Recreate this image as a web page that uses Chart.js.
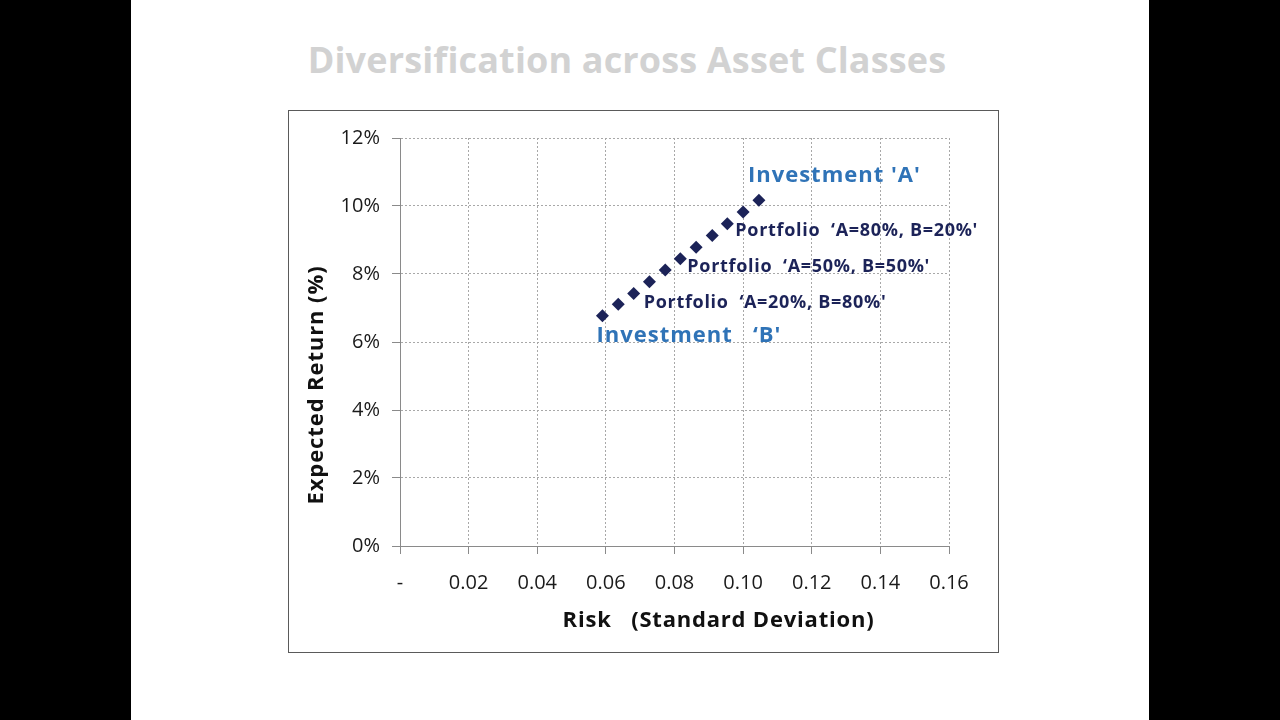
<!DOCTYPE html>
<html><head><meta charset="utf-8">
<script src="https://cdn.jsdelivr.net/npm/chart.js@4.4.0/dist/chart.umd.min.js"></script>
<style>
html,body{margin:0;padding:0;background:#000;width:1280px;height:720px;overflow:hidden;}
#slide{position:absolute;left:131px;top:0;width:1018px;height:720px;background:#fff;}
#title{position:absolute;left:627px;top:36px;transform:translateX(-50%);white-space:nowrap;font:bold 36px 'Open Sans';line-height:48px;color:#d2d2d2;letter-spacing:0.15px;}
#box{position:absolute;left:288px;top:110px;width:709px;height:541px;border:1px solid #5a5a5a;background:#fff;}
#box canvas{position:absolute;left:0;top:0;}
</style></head>
<body>
<div id="slide"></div>
<div id="title">Diversification across Asset Classes</div>
<div id="box"><canvas id="c" width="709" height="541"></canvas></div>
<script>
// ---- data ----
const riskValues   = [0.0590,0.0636,0.0681,0.0727,0.0773,0.0817,0.0863,0.0910,0.0954,0.1000,0.1046];
const returnValues = [0.0677,0.0711,0.0743,0.0777,0.0812,0.0845,0.0879,0.0913,0.0948,0.0982,0.1017];
const xTickValues = [0,0.02,0.04,0.06,0.08,0.10,0.12,0.14,0.16];
const xTickLabels = ['-','0.02','0.04','0.06','0.08','0.10','0.12','0.14','0.16'];
const yTickValues = [0,0.02,0.04,0.06,0.08,0.10,0.12];
const yTickLabels = ['0%','2%','4%','6%','8%','10%','12%'];
const xAxisTitle = 'Risk   (Standard Deviation)';
const yAxisTitle = 'Expected Return (%)';
const pointLabels = [
  {text:"Investment 'A'", index:10},
  {text:"Portfolio  \u2018A=80%, B=20%'", index:8},
  {text:"Portfolio  \u2018A=50%, B=50%'", index:5},
  {text:"Portfolio  \u2018A=20%, B=80%'", index:2},
  {text:"Investment   \u2018B'", index:0}
];
// ---- styles for point labels ----
const labelStyles = [
  {dx:-11, dy:-18, font:"bold 22px 'Open Sans'", color:'#2f73b7', ls:'1px'},
  {dx:8,  dy:12, font:"bold 18px 'Open Sans'", color:'#1c2358', ls:'0.7px'},
  {dx:7,  dy:13, font:"bold 18px 'Open Sans'", color:'#1c2358', ls:'0.7px'},
  {dx:10, dy:15, font:"bold 18px 'Open Sans'", color:'#1c2358', ls:'0.7px'},
  {dx:-6, dy:26, font:"bold 22px 'Open Sans'", color:'#2f73b7', ls:'1px'}
];

const points = riskValues.map((x,i)=>({x:x,y:returnValues[i]}));

const overlay = {
  id:'overlay',
  afterDatasetsDraw(chart){
    const {ctx, scales:{x,y}} = chart;
    ctx.save();
    pointLabels.forEach((l,k)=>{
      const s = labelStyles[k];
      const px = x.getPixelForValue(riskValues[l.index]);
      const py = y.getPixelForValue(returnValues[l.index]);
      ctx.font = s.font; ctx.fillStyle = s.color;
      ctx.letterSpacing = s.ls;
      ctx.textAlign='left'; ctx.textBaseline='alphabetic';
      ctx.fillText(l.text, px+s.dx, py+s.dy);
    });
    // axis titles
    const ca = chart.chartArea;
    ctx.font = "bold 22px 'Open Sans'"; ctx.fillStyle='#111';
    ctx.letterSpacing = '0.8px';
    ctx.textAlign='center'; ctx.textBaseline='alphabetic';
    ctx.fillText(xAxisTitle, (ca.left+ca.right)/2 + 44, ca.bottom + 81);
    ctx.letterSpacing = '0.9px';
    ctx.translate(34, (ca.top+ca.bottom)/2 + 43);
    ctx.rotate(-Math.PI/2);
    ctx.fillText(yAxisTitle, 0, 0);
    ctx.restore();
  }
};

new Chart(document.getElementById('c'), {
  type:'scatter',
  data:{datasets:[{
    data:points,
    pointStyle:'rectRot',
    pointRadius:6.5,
    pointHoverRadius:6.5,
    backgroundColor:'#1c2358',
    borderColor:'#1c2358',
    borderWidth:0
  }]},
  options:{
    responsive:false,
    animation:false,
    events:[],
    layout:{padding:{left:0,right:49,top:27,bottom:0}},
    plugins:{legend:{display:false},tooltip:{enabled:false},title:{display:false}},
    scales:{
      x:{
        type:'linear', min:0, max:0.16,
        afterBuildTicks(s){ s.ticks = xTickValues.map(v=>({value:v})); },
        afterFit(s){ s.height = 106; },
        ticks:{ callback:(v,i)=>xTickLabels[i], font:{family:'Open Sans',size:20}, color:'#1a1a1a', padding:17, maxRotation:0, autoSkip:false },
        grid:{ color:'#a8a8a8', lineWidth:1, tickLength:8, tickColor:'#8a8a8a', tickBorderDash:[] },
        border:{ color:'#8a8a8a', width:1, dash:[2,2] }
      },
      y:{
        type:'linear', min:0, max:0.12,
        afterBuildTicks(s){ s.ticks = yTickValues.map(v=>({value:v})); },
        afterFit(s){ s.width = 111; },
        ticks:{ callback:(v,i)=>yTickLabels[i], font:{family:'Open Sans',size:20}, color:'#1a1a1a', padding:12, autoSkip:false },
        grid:{ color:'#a8a8a8', lineWidth:1, tickLength:8, tickColor:'#8a8a8a', tickBorderDash:[] },
        border:{ color:'#8a8a8a', width:1, dash:[2,2] }
      }
    }
  },
  plugins:[overlay]
});
</script>
</body></html>
